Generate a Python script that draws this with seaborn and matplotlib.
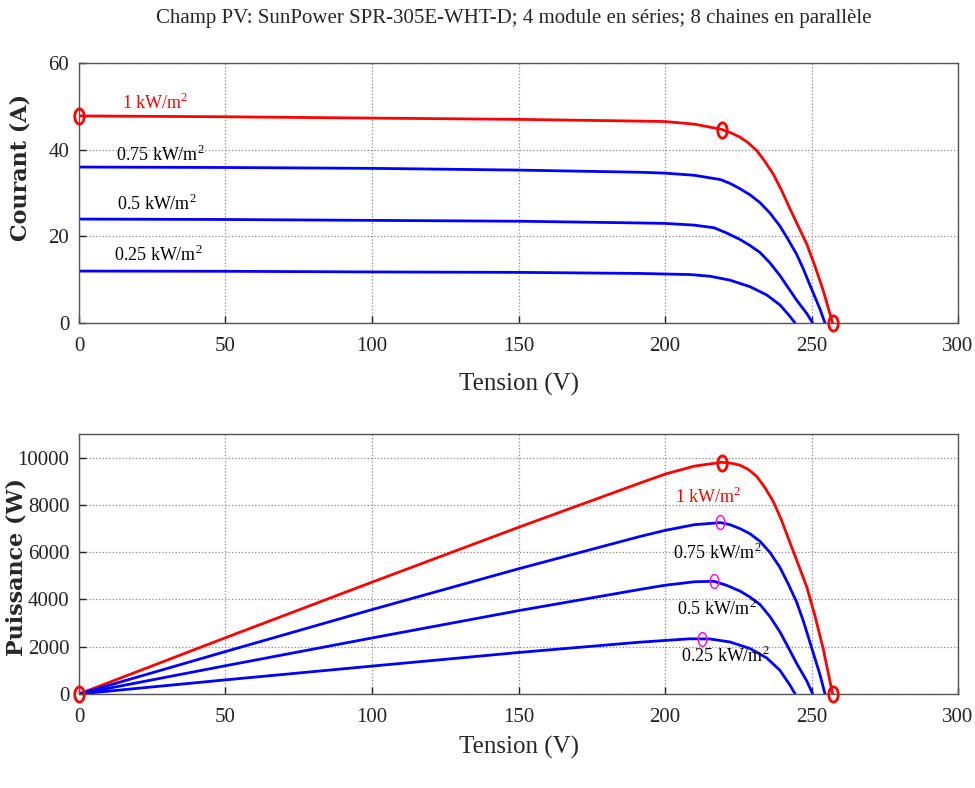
import numpy as np
import pandas as pd
import matplotlib
matplotlib.use("Agg")
import matplotlib.pyplot as plt
import seaborn as sns
from matplotlib.path import Path
from matplotlib.transforms import Affine2D

# ---- data ----
irradiances = ["1 kW/m$^2$", "0.75 kW/m$^2$", "0.5 kW/m$^2$", "0.25 kW/m$^2$"]

v_1000 = [0, 50, 100, 150, 191.5, 200, 210, 219.3, 222.8, 225.6, 228.4, 231.3, 234.1, 237,
          239.8, 242.7, 245.5, 248.4, 251.2, 254, 257.2]
i_1000 = [47.8, 47.6, 47.3, 47.0, 46.6, 46.5, 45.9, 44.7, 43.8, 42.9, 41.6, 39.8, 37.3, 34.3,
          30.6, 26.3, 22.3, 18.2, 13.1, 7.5, 0]

v_750 = [0, 50, 100, 150, 191.5, 200, 210, 219, 222.3, 225.6, 229, 232.4, 235.8, 239.2,
         242, 244.9, 247.2, 249.5, 252.9, 254.6]
i_750 = [36.0, 35.9, 35.7, 35.3, 34.8, 34.6, 34.1, 33.1, 32.2, 31.0, 29.6, 27.8, 25.4, 22.4,
         19.3, 15.9, 12.5, 8.7, 3.2, 0]

v_500 = [0, 50, 100, 150, 191.5, 200, 210, 216.7, 221, 225.6, 229, 232.4, 235.8, 239.2,
         242, 244.9, 248.4, 250.4]
i_500 = [24.0, 23.9, 23.7, 23.5, 23.1, 23.0, 22.6, 22.0, 20.8, 19.3, 17.9, 16.3, 13.9, 11.0,
         8.2, 5.3, 2.2, 0]

v_250 = [0, 50, 100, 150, 191.5, 208.5, 215.4, 222.2, 229.0, 234.7, 239.2, 242.7, 244.4]
i_250 = [12.0, 11.95, 11.8, 11.7, 11.45, 11.2, 10.8, 9.9, 8.4, 6.5, 4.2, 1.5, 0]

# maximum power points (V, P)
mpp_v = [219.3, 218.8, 216.7, 212.5]
mpp_p = [9790, 7260, 4790, 2330]
voc_1000 = 257.2

voltages = [v_1000, v_750, v_500, v_250]
currents = [i_1000, i_750, i_500, i_250]

frames = []
for lab, v, i in zip(irradiances, voltages, currents):
    v = np.array(v, float); i = np.array(i, float)
    frames.append(pd.DataFrame({"V": v, "I": i, "P": v * i, "G": lab}))
df = pd.concat(frames, ignore_index=True)

palette = {irradiances[0]: "#ff0000", irradiances[1]: "#0000ff",
           irradiances[2]: "#0000ff", irradiances[3]: "#0000ff"}

sns.set_theme(style="white")
plt.rcParams["font.family"] = ["Liberation Serif", "DejaVu Serif"]
plt.rcParams["mathtext.fontset"] = "custom"
plt.rcParams["mathtext.rm"] = "Liberation Serif"

fig = plt.figure(figsize=(9.75, 7.88), dpi=100)
ax1 = fig.add_axes([0.081, 0.590, 0.9016, 0.330])
ax2 = fig.add_axes([0.081, 0.1193, 0.9016, 0.330])

ell = Path.unit_circle().transformed(Affine2D().scale(0.62, 1.0))

for ax, ycol in ((ax1, "I"), (ax2, "P")):
    sns.lineplot(data=df, x="V", y=ycol, hue="G", palette=palette, sort=False,
                 estimator=None, linewidth=2.0, legend=False, ax=ax)
    ax.set_xlim(0, 300)
    ax.set_xticks(np.arange(0, 301, 50))
    ax.grid(True, linestyle=":", color="#888888", linewidth=0.9)
    ax.tick_params(direction="in", length=5, width=1, colors="#222222",
                   labelsize=15, pad=7, top=False, right=False, bottom=True, left=True)
    ax.tick_params(axis="x", pad=10)
    for s in ax.spines.values():
        s.set_color("#555555"); s.set_linewidth(1.0)
    ax.set_xlabel("Tension (V)", fontsize=18)

ax1.set_ylim(0, 60)
ax1.set_yticks([0, 20, 40, 60])
ax2.set_ylim(0, 11000)
ax2.set_yticks(np.arange(0, 10001, 2000))
ax1.set_ylabel("Courant (A)", fontsize=16, fontweight="bold", family="DejaVu Serif")
ax2.set_ylabel("Puissance (W)", fontsize=16, fontweight="bold", family="DejaVu Serif")
ax1.yaxis.set_label_coords(-0.0535, 0.60)
ax2.yaxis.set_label_coords(-0.058, 0.49)
ax1.xaxis.set_label_coords(0.5, -0.19)
ax2.xaxis.set_label_coords(0.5, -0.163)

# markers, top chart
ax1.plot([0, mpp_v[0], voc_1000], [i_1000[0], mpp_p[0] / mpp_v[0], 0], linestyle="none",
         marker=ell, markersize=11, markerfacecolor="none", markeredgecolor="#ff0000",
         markeredgewidth=2, clip_on=False, zorder=5)
# markers, bottom chart
ax2.plot([0, mpp_v[0], voc_1000], [0, mpp_p[0], 0], linestyle="none",
         marker=ell, markersize=11, markerfacecolor="none", markeredgecolor="#ff0000",
         markeredgewidth=2, clip_on=False, zorder=5)
ax2.plot(mpp_v[1:], mpp_p[1:], linestyle="none", marker=ell, markersize=10,
         markerfacecolor="none", markeredgecolor="#ff00ff", markeredgewidth=1, zorder=5)

# labels
top_pos = [(26, 50.8), (27.6, 38.8), (26.6, 27.5), (27, 15.7)]
bot_pos = [(214.7, 8350), (217.7, 5975), (217.7, 3600), (220.5, 1610)]
colors = ["#ff0000", "black", "black", "black"]
for lab, (x, y), c in zip(irradiances, top_pos, colors):
    ax1.text(x, y, lab, color=c, ha="center", va="center", fontsize=13)
for lab, (x, y), c in zip(irradiances, bot_pos, colors):
    ax2.text(x, y, lab, color=c, ha="center", va="center", fontsize=13)

fig.text(0.527, 0.977, "Champ PV: SunPower SPR-305E-WHT-D; 4 module en séries; 8 chaines en parallèle",
         ha="center", va="center", fontsize=15)

fig.savefig("out.png", dpi=100, facecolor="white")
